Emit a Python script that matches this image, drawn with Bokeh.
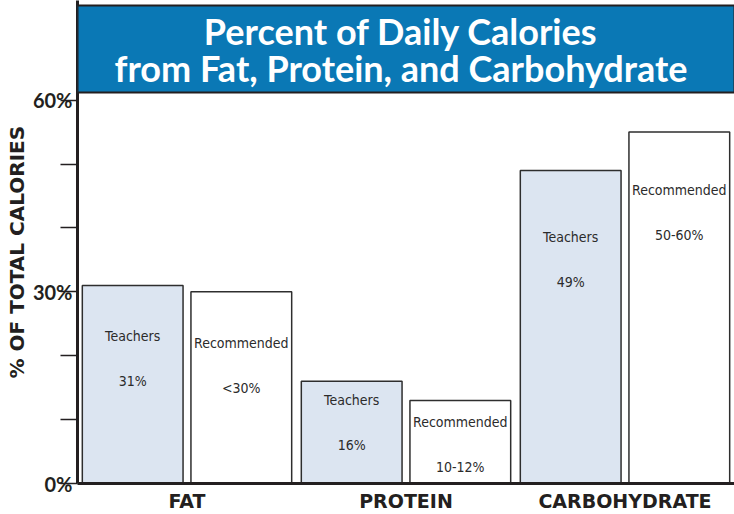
from bokeh.plotting import figure
from bokeh.models import (ColumnDataSource, FactorRange, FixedTicker, Range1d,
                          BoxAnnotation, Label, Title)
from bokeh.transform import dodge
from bokeh.embed import file_html
from bokeh.resources import INLINE
from bokeh.core.properties import value

# ---- data ----
categories = ["FAT", "PROTEIN", "CARBOHYDRATE"]
teachers = [31, 16, 49]
recommended = [30, 13, 55]
teacher_text = ["31%", "16%", "49%"]
recommended_text = ["<30%", "10-12%", "50-60%"]
series_names = ["Teachers", "Recommended"]
y_ticks = [0, 10, 20, 30, 40, 50, 60]
y_tick_labels = {0: "0%", 10: "", 20: "", 30: "30%", 40: "", 50: "", 60: "60%"}
title_lines = ["Percent of Daily Calories", "from Fat, Protein, and Carbohydrate"]
y_title = "% OF TOTAL CALORIES"

# ---- styling / layout constants ----
DARK = "#231f20"
BLUE = "#0a78b5"
BAR_W = 0.46
DODGE = 0.248
teacher_label_offset = [51, 19, 67]
recommended_label_offset = [51, 22, 58]
LINE_GAP = 45
Y_END = 75.59          # frame extends up under the title banner
TITLE_BOTTOM = 61.19   # banner edges (layout, in y units)
TITLE_TOP = 74.8
TITLE_LINE_Y = [70.74, 64.95]

src = ColumnDataSource(dict(
    cat=categories,
    teachers=teachers,
    recommended=recommended,
    t_name=[series_names[0]] * 3,
    r_name=[series_names[1]] * 3,
    t_val=teacher_text,
    r_val=recommended_text,
    t_off1=teacher_label_offset,
    t_off2=[o + LINE_GAP for o in teacher_label_offset],
    r_off1=recommended_label_offset,
    r_off2=[o + LINE_GAP for o in recommended_label_offset],
))

p = figure(
    x_range=FactorRange(*categories),
    y_range=Range1d(0, Y_END),
    width=734, height=514, title_location=None,
    output_backend="svg", toolbar_location=None,
    min_border_left=77, min_border_right=0, min_border_top=0, min_border_bottom=31,
)
p.outline_line_color = None
p.xgrid.visible = False
p.ygrid.visible = False

xt = dodge("cat", -DODGE, range=p.x_range)
xr = dodge("cat", DODGE, range=p.x_range)

p.vbar(x=xt, top="teachers", width=BAR_W, source=src,
       fill_color="#dce5f1", line_color="#2e2e2e", line_width=1.5)
p.vbar(x=xr, top="recommended", width=BAR_W, source=src,
       fill_color="white", line_color="#2e2e2e", line_width=1.5)

font = value("DejaVu Sans Condensed")
common = dict(source=src, text_align="center", text_baseline="middle",
              text_font=font, text_font_size="14px", text_color="#2b2b2b")
p.text(x=xt, y="teachers", text="t_name", y_offset="t_off1", **common)
p.text(x=xt, y="teachers", text="t_val", y_offset="t_off2", **common)
p.text(x=xr, y="recommended", text="r_name", y_offset="r_off1", **common)
p.text(x=xr, y="recommended", text="r_val", y_offset="r_off2", **common)

# title banner (inside the frame, above the 60% level)
banner = BoxAnnotation(bottom=TITLE_BOTTOM, top=TITLE_TOP,
                       fill_color=BLUE, fill_alpha=1.0,
                       line_color=DARK, line_width=2, line_alpha=1.0)
p.add_layout(banner)
for line, ly in zip(title_lines, TITLE_LINE_Y):
    p.add_layout(Label(x=1.5, y=ly, text=line, text_align="center",
                       text_baseline="middle", x_offset=-5,
                       text_font="Lato", text_font_style="bold",
                       text_font_size="36px", text_color="white"))

# y axis
ya = p.yaxis[0]
ya.ticker = FixedTicker(ticks=y_ticks)
ya.major_label_overrides = y_tick_labels
ya.minor_tick_line_color = None
ya.major_tick_out = 17
ya.major_tick_in = 0
ya.major_tick_line_color = DARK
ya.major_tick_line_width = 1.5
ya.axis_line_color = DARK
ya.axis_line_width = 3
ya.major_label_standoff = -12
ya.major_label_text_font = "Lato"
ya.major_label_text_font_style = "bold"
ya.major_label_text_font_size = "20px"
ya.major_label_text_color = DARK

ytitle = Title(text=y_title, align="left", offset=105,
               text_font="DejaVu Sans", text_font_style="bold",
               text_font_size="20px", text_color=DARK)
if "standoff" in Title.properties():
    ytitle.standoff = 2
p.add_layout(ytitle, "left")

# x axis
xa = p.xaxis[0]
xa.axis_line_color = DARK
xa.axis_line_width = 3
xa.major_tick_line_color = None
xa.minor_tick_line_color = None
xa.major_label_standoff = 0
xa.major_label_text_font = "DejaVu Sans"
xa.major_label_text_font_style = "bold"
xa.major_label_text_font_size = "19px"
xa.major_label_text_color = DARK

open("out.html", "w").write(file_html(p, INLINE))
